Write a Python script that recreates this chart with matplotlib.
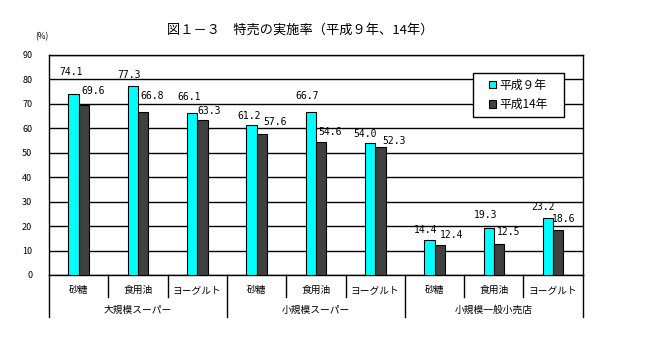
import matplotlib.pyplot as plt
from matplotlib.patches import Rectangle
import numpy as np

plt.rcParams['font.family'] = ['Noto Sans CJK JP', 'DejaVu Sans']

items = ["砂糖", "食用油", "ヨーグルト"] * 3
groups = ["大規模スーパー", "小規模スーパー", "小規模一般小売店"]
h9 = [74.1, 77.3, 66.1, 61.2, 66.7, 54.0, 14.4, 19.3, 23.2]
h14 = [69.6, 66.8, 63.3, 57.6, 54.6, 52.3, 12.4, 12.5, 18.6]
series_names = ["平成９年", "平成14年"]
yticks = [0, 10, 20, 30, 40, 50, 60, 70, 80, 90]

# label offsets (px) as placed in the original chart
off9 = [(-2, 22), (-4, 11), (-3, 16.6), (-2.7, 9), (-4, 15.6), (-5, 8.7), (-3.3, 9.3), (-3.2, 12.7), (-5, 11.7)]
off14 = [(9.3, 14), (9, 15.6), (6.5, 9.6), (13.7, 11.7), (9.5, 9.7), (13.7, 6.3), (11.7, 9.7), (9.2, 12), (5, 10.3)]

fig = plt.figure(figsize=(6.49, 3.47), dpi=100)
ax = fig.add_axes([0.0755, 0.2075, 0.8225, 0.634])

x = np.arange(len(items))
w = 0.174
ax.bar(x - w / 2, h9, w, color="#00FFFF", edgecolor="black", linewidth=0.8,
       label=series_names[0], zorder=3)
ax.bar(x + w / 2, h14, w, color="#404040", edgecolor="black", linewidth=0.8,
       label=series_names[1], zorder=3)

px = 0.72  # points per pixel
for xi, v, (dx, dy) in zip(x, h9, off9):
    ax.annotate(f"{v:.1f}", (xi - w / 2, v), xytext=(dx * px, dy * px), textcoords="offset points",
                ha="center", va="center", fontsize=7, family="DejaVu Sans Mono")
for xi, v, (dx, dy) in zip(x, h14, off14):
    ax.annotate(f"{v:.1f}", (xi + w / 2, v), xytext=(dx * px, dy * px), textcoords="offset points",
                ha="center", va="center", fontsize=7, family="DejaVu Sans Mono")

ax.set_xlim(-0.5, 8.5)
ax.set_ylim(0, 90)
ax.set_yticks(yticks)
ax.yaxis.grid(True, color="black", linewidth=1)
ax.set_axisbelow(True)
ax.tick_params(axis="y", length=0, labelsize=6.5, pad=12)
ax.set_xticks([])
for s in ax.spines.values():
    s.set_linewidth(1)

# category axis below the plot
tr = ax.get_xaxis_transform()
for i in range(10):
    xb = i - 0.5
    low = -0.19 if i % 3 == 0 else -0.1
    ax.plot([xb, xb], [0, low], color="black", linewidth=1, transform=tr, clip_on=False)
for xi, name in zip(x, items):
    ax.text(xi, -0.068, name, transform=tr, ha="center", va="center", fontsize=7)
for g, name in enumerate(groups):
    ax.text(3 * g + 1, -0.159, name, transform=tr, ha="center", va="center", fontsize=7)

ax.text(-0.013, 1.085, "(%)", transform=ax.transAxes, ha="center", va="center", fontsize=6)
fig.text(0.462, 0.914, "図１－３　特売の実施率（平成９年、14年）", ha="center", va="center",
         fontsize=9.5)

# legend box
ax.add_patch(Rectangle((0.794, 0.718), 0.1705, 0.2, transform=ax.transAxes,
                       facecolor="white", edgecolor="black", linewidth=1, zorder=4))
leg = ax.legend(loc="center", bbox_to_anchor=(0.8792, 0.818), frameon=False,
                fontsize=8.5, handlelength=0.6, handleheight=0.6, handletextpad=0.3,
                borderpad=0, labelspacing=0.55)
leg.set_zorder(5)

fig.savefig("out.png", dpi=100)
